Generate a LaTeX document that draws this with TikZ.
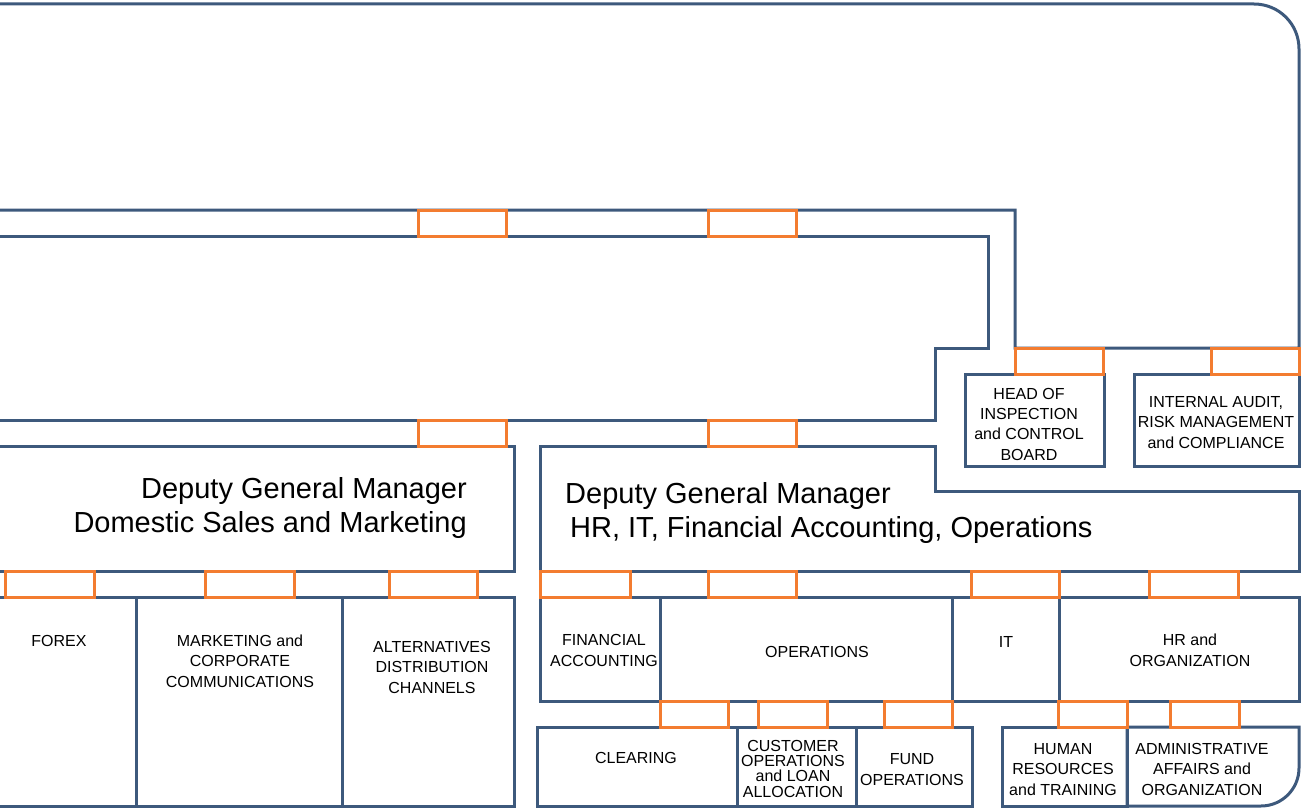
\documentclass[tikz,border=0pt]{standalone}
\usepackage{fontspec}
\setmainfont{Liberation Sans}
\definecolor{frame}{RGB}{61,89,124}
\definecolor{link}{RGB}{243,124,48}
\begin{document}
\begin{tikzpicture}[x=1pt,y=-1pt,
  wall/.style={draw=frame,line width=3pt,line join=miter},
  joint/.style={draw=link,line width=3pt,fill=white},
  unit/.style={font=\fontsize{16}{20.3}\selectfont,align=center,anchor=base,inner sep=0pt},
  head/.style={font=\fontsize{29}{34}\selectfont,inner sep=0pt}]
\useasboundingbox (0,0) rectangle (1301,808);
\clip (0,0) rectangle (1301,808);

% board band and general manager frame
\draw[wall] (-10,4) -- (1254,4) .. controls (1279,4) and (1299,24) .. (1299,49)
  -- (1299,348) -- (1015,348) -- (1015,210) -- (-10,210);
\draw[wall] (-10,236) -- (988,236) -- (988,348) -- (935,348) -- (935,420) -- (-10,420);

% deputy general managers
\draw[wall] (-10,446) rectangle (514,571);
\draw[wall] (540,571) -- (540,446) -- (935,446) -- (935,491) -- (1299,491) -- (1299,571) -- cycle;

% boards reporting to the top
\draw[wall] (965,374) rectangle (1104,466);
\draw[wall] (1134,374) rectangle (1299,466);

% domestic sales units
\draw[wall] (-10,597) rectangle (136,806);
\draw[wall] (136,597) rectangle (342,806);
\draw[wall] (342,597) rectangle (514,806);

% HR, IT, accounting and operations units
\draw[wall] (540,597) rectangle (660,701);
\draw[wall] (660,597) rectangle (952,701);
\draw[wall] (952,597) rectangle (1059,701);
\draw[wall] (1059,597) rectangle (1299,701);

% operations and HR sub-units
\draw[wall] (537,727) rectangle (737,806);
\draw[wall] (737,727) rectangle (856,806);
\draw[wall] (856,727) rectangle (972,806);
\draw[wall] (1002,727) rectangle (1127,806);
\draw[wall] (1127,727) -- (1299,727) -- (1299,768)
  .. controls (1299,789) and (1282,806) .. (1261,806) -- (1127,806) -- cycle;

% orange joints
\foreach \a/\b/\c/\d in {418/210/506/236, 708/210/796/236,
    418/420/506/446, 708/420/796/446,
    1015/348/1103/374, 1211/348/1299/374,
    5/571/94/597, 205/571/294/597, 389/571/477/597,
    540/571/630/597, 708/571/796/597, 971/571/1059/597, 1149/571/1238/597,
    660/701/728/727, 758/701/827/727, 884/701/952/727,
    1058/701/1127/727, 1170/701/1239/727}
  \draw[joint] (\a,\b) rectangle (\c,\d);

% texts (the base anchor of a multi-line node sits on its last line)
\node[head,anchor=base east,align=right] (dgmsales) at (467,532)
  {Deputy General Manager\\Domestic Sales and Marketing};
\node[head,anchor=base west,align=left] (dgmops) at (565,537)
  {Deputy General Manager\\\hspace*{5pt}HR, IT, Financial Accounting, Operations};

\node[unit] (inspection) at (1029,460) {HEAD OF\\INSPECTION\\and CONTROL\\BOARD};
\node[unit] (audit) at (1216,448) {INTERNAL AUDIT,\\RISK MANAGEMENT\\and COMPLIANCE};

\node[unit] (forex) at (59,646) {FOREX};
\node[unit] (marketing) at (240,687) {MARKETING and\\CORPORATE\\COMMUNICATIONS};
\node[unit] (channels) at (432,693) {ALTERNATIVES\\DISTRIBUTION\\CHANNELS};

\node[unit] (accounting) at (604,666) {FINANCIAL\\ACCOUNTING};
\node[unit] (operations) at (817,657) {OPERATIONS};
\node[unit] (it) at (1006,647) {IT};
\node[unit] (hr) at (1190,666) {HR and\\ORGANIZATION};

\node[unit] (clearing) at (636,763) {CLEARING};
\node[unit,font=\fontsize{16}{15.3}\selectfont] (customer) at (793,797)
  {CUSTOMER\\OPERATIONS\\and LOAN\\ALLOCATION};
\node[unit,font=\fontsize{16}{21}\selectfont] (fund) at (912,785) {FUND\\OPERATIONS};
\node[unit,font=\fontsize{16}{20.5}\selectfont] (training) at (1063,795)
  {HUMAN\\RESOURCES\\and TRAINING};
\node[unit,font=\fontsize{16}{20.5}\selectfont] (admin) at (1202,795)
  {ADMINISTRATIVE\\AFFAIRS and\\ORGANIZATION};
\end{tikzpicture}
\end{document}
